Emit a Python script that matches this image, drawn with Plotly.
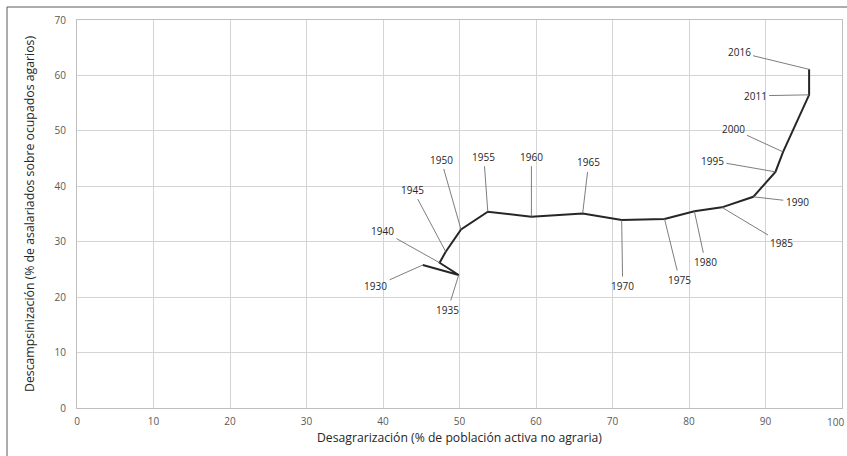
import plotly.graph_objects as go

years = ["1930", "1935", "1940", "1945", "1950", "1955", "1960", "1965", "1970",
         "1975", "1980", "1985", "1990", "1995", "2000", "2011", "2016"]
desagrarizacion = [45.2, 49.9, 47.4, 48.2, 50.2, 53.7, 59.4, 66.1, 71.2,
                   76.8, 80.7, 84.3, 88.4, 91.3, 92.3, 95.7, 95.7]
descampesinizacion = [25.8, 24.0, 26.2, 28.2, 32.2, 35.4, 34.5, 35.1, 33.9,
                      34.1, 35.5, 36.2, 38.1, 42.6, 46.2, 56.5, 61.1]
x_ticks = [0, 10, 20, 30, 40, 50, 60, 70, 80, 90, 100]
y_ticks = [0, 10, 20, 30, 40, 50, 60, 70]

# label offsets in pixels (layout, not data)
offsets = {
    "1930": (-47, 21), "1935": (-11, 35), "1940": (-57, -32), "1945": (-33, -62),
    "1950": (-20, -70), "1955": (-4, -55), "1960": (0, -60), "1965": (6, -51),
    "1970": (1, 66), "1975": (15, 61), "1980": (11, 51), "1985": (60, 36),
    "1990": (44, 5), "1995": (-63, -11), "2000": (-50, -23), "2011": (-54, 1),
    "2016": (-70, -17),
}

FONT = "Open Sans"

fig = go.Figure()
fig.add_trace(go.Scatter(
    x=desagrarizacion, y=descampesinizacion, mode="lines",
    line=dict(color="#262626", width=2), hoverinfo="skip", showlegend=False))

for yr, xv, yv in zip(years, desagrarizacion, descampesinizacion):
    ax, ay = offsets[yr]
    fig.add_annotation(
        x=xv, y=yv, text=yr, showarrow=True, arrowhead=0, arrowwidth=0.9,
        arrowcolor="#6e6e6e", ax=ax, ay=ay, standoff=0, startstandoff=1,
        font=dict(family=FONT, size=10, color="#262626"))

# last x tick label, nudged so it stays inside the picture
fig.add_annotation(x=x_ticks[-1], xref="x", y=0, yref="paper", text=str(x_ticks[-1]),
                   showarrow=False, yanchor="top", yshift=-5, xanchor="right", xshift=4,
                   font=dict(family=FONT, size=10, color="#595959"))

W, H = 847, 456
L, R, T, B = 77, 5, 20, 48
pw, ph = W - L - R, H - T - B

# outer frame (pixel positions converted to paper fractions)
fx0, fx1, fy_top, fy_bot = 7, W + 20, 7, H + 20
fig.add_shape(type="rect", xref="paper", yref="paper",
              x0=(fx0 - L) / pw, x1=(fx1 - L) / pw,
              y0=((H - B) - fy_bot) / ph, y1=((H - B) - fy_top) / ph,
              line=dict(color="#5a5a5a", width=1), layer="above")

fig.update_layout(
    width=W, height=H,
    margin=dict(l=L, r=R, t=T, b=B, autoexpand=False),
    paper_bgcolor="white", plot_bgcolor="white",
    font=dict(family=FONT, color="#404040"),
    xaxis=dict(range=[0, 100], tickvals=x_ticks[:-1], showgrid=True, automargin=False,
               gridcolor="#d4d4d4", gridwidth=1, zeroline=False,
               showline=True, linecolor="#bfbfbf", linewidth=1, mirror=True,
               tickfont=dict(size=10, color="#595959"), ticks="",
               ticklabelstandoff=4,
               title=dict(text="Desagrarización (% de población activa no agraria)",
                          font=dict(size=12.2, color="#262626"), standoff=6)),
    yaxis=dict(range=[0, 70], tickvals=y_ticks, showgrid=True, automargin=False,
               gridcolor="#d4d4d4", gridwidth=1, zeroline=False,
               showline=True, linecolor="#bfbfbf", linewidth=1, mirror=True,
               tickfont=dict(size=10, color="#595959"), ticks="",
               ticklabelstandoff=8,
               title=dict(text="Descampsinización (% de asalariados sobre ocupados agarios)",
                          font=dict(size=12.3, color="#262626"), standoff=17)),
)

fig.write_html("out.html", config={"displayModeBar": False},
               post_script="document.body.style.margin='0';document.body.style.overflow='hidden';")
